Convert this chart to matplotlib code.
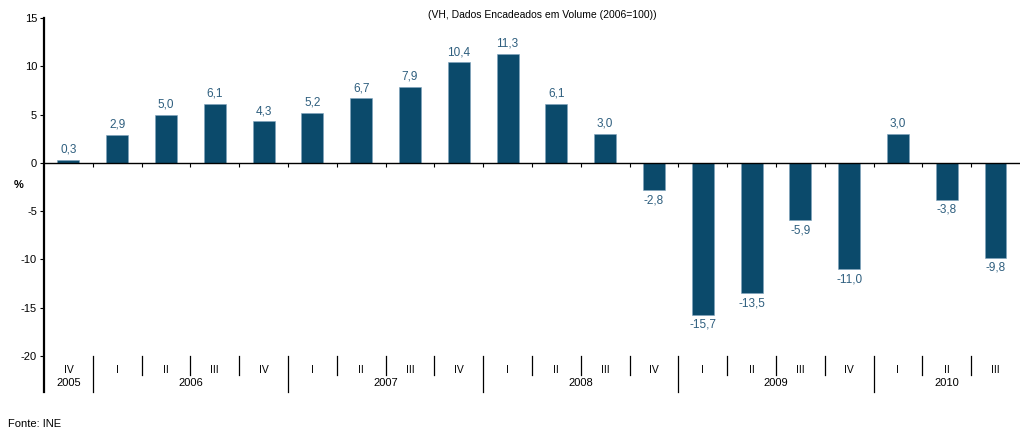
import matplotlib
matplotlib.use("Agg")
import matplotlib.pyplot as plt
import matplotlib.transforms as mtransforms
import numpy as np

plt.rcParams["font.family"] = ["Liberation Sans", "DejaVu Sans"]
plt.rcParams["axes.unicode_minus"] = False

# ─── Data ─────────────────────────────────────────────────────────────────────
quarters = ["IV", "I", "II", "III", "IV", "I", "II", "III", "IV", "I",
            "II", "III", "IV", "I", "II", "III", "IV", "I", "II", "III"]
years    = ["2005", "2006", "2007", "2008", "2009", "2010"]
year_n   = [1, 4, 4, 4, 4, 3]   # quarters per year shown
values   = [0.3, 2.9, 5.0, 6.1, 4.3, 5.2, 6.7, 7.9, 10.4, 11.3,
            6.1, 3.0, -2.8, -15.7, -13.5, -5.9, -11.0, 3.0, -3.8, -9.8]

BAR = "#0B4A6B"
LBL = "#2E5E7E"

fig = plt.figure(figsize=(10.24, 4.30), dpi=100)
ax = fig.add_axes([0.043, 0.172, 0.953, 0.786])
trans = mtransforms.blended_transform_factory(ax.transData, ax.transAxes)

x = np.arange(len(values))
ax.bar(x, values, width=0.45, color=BAR, edgecolor="#7fa3bd", linewidth=0.4, zorder=3)

for xi, v in zip(x, values):
    txt = f"{v:.1f}".replace(".", ",")
    if v >= 0:
        ax.annotate(txt, (xi, v), xytext=(0, 3), textcoords="offset points",
                    ha="center", va="bottom", fontsize=8.5, color=LBL)
    else:
        ax.annotate(txt, (xi, v), xytext=(0, -3), textcoords="offset points",
                    ha="center", va="top", fontsize=8.5, color=LBL)

ax.set_xlim(-0.5, len(values) - 0.5)
ax.set_ylim(-20, 15)
ax.set_yticks(range(-20, 16, 5))
ax.tick_params(axis="y", labelsize=8, length=3, width=0.8, pad=2)
ax.set_xticks([])

for s in ["top", "right", "bottom", "left"]:
    ax.spines[s].set_visible(False)

# left axis line runs down through the category area
ax.plot([-0.5, -0.5], [1.0, -0.107], transform=trans,
        color="black", lw=1.6, clip_on=False)

# zero line with small ticks
ax.axhline(0, color="black", lw=1.0, zorder=4)
bounds = np.arange(0.5, len(values) - 0.5, 1)
ax.vlines(bounds, -0.45, 0, color="black", lw=0.8, zorder=4)

# category axis below the plot
for xi, q in zip(x, quarters):
    ax.text(xi, -0.041, q, transform=trans, ha="center", va="center", fontsize=7.5)

year_starts = np.cumsum([0] + year_n[:-1])
for start, n, yr in zip(year_starts, year_n, years):
    ax.text(start + (n - 1) / 2, -0.080, yr, transform=trans,
            ha="center", va="center", fontsize=8)

for b in bounds:
    long_sep = (b + 0.5) in year_starts
    ax.plot([b, b], [0, -0.107 if long_sep else -0.056], transform=trans,
            color="black", lw=0.9, clip_on=False)

fig.text(0.018, 0.57, "%", fontsize=8, fontweight="bold", ha="center", va="center")
fig.text(0.53, 0.965, "(VH, Dados Encadeados em Volume (2006=100))", fontsize=7.5,
         ha="center", va="center")
fig.text(0.008, 0.013, "Fonte: INE", fontsize=8, ha="left", va="center")

fig.savefig("out.png", dpi=100)
